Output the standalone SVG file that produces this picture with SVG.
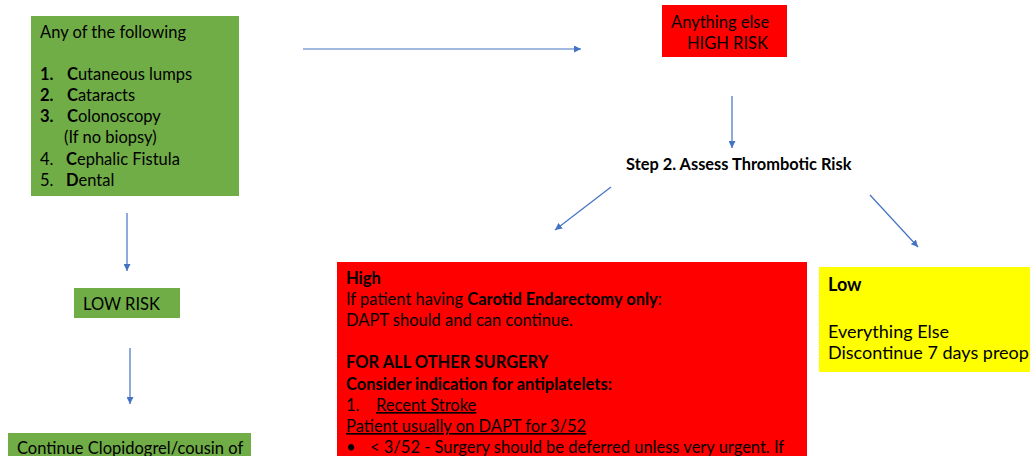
<svg xmlns="http://www.w3.org/2000/svg" width="1030" height="456" viewBox="0 0 1030 456">
<defs>
<marker id="ah" viewBox="0 0 10 10" refX="10" refY="5" markerWidth="7" markerHeight="7" markerUnits="userSpaceOnUse" orient="auto">
<path d="M0,0 L10,5 L0,10 z" fill="#4472C4"/>
</marker>
</defs>
<style>
text{font-family:Lato,"Liberation Sans",sans-serif;font-size:16.5px;fill:#000}
.b{font-weight:bold}
.u{text-decoration:underline}
.big{font-size:18px}
.c line{stroke:#4472C4;stroke-width:1.2;marker-end:url(#ah)}
.g{fill:#70AD47}
.r{fill:#FF0000}
.y{fill:#FFFF00}
</style>
<rect width="1030" height="456" fill="#fff"/>
<g class="c">
<line x1="303" y1="49" x2="581" y2="49"/>
<line x1="732" y1="96" x2="732" y2="148"/>
<line x1="611" y1="187" x2="555" y2="230"/>
<line x1="870" y1="195" x2="918" y2="247"/>
<line x1="127" y1="213" x2="127" y2="271"/>
<line x1="130" y1="348" x2="130" y2="404"/>
</g>
<g id="list">
<rect class="g" x="31" y="16" width="208" height="180"/>
<text x="40" y="38">Any of the following</text>
<text x="40" y="80"><tspan class="b">1.</tspan><tspan x="67" class="b">C</tspan>utaneous lumps</text>
<text x="40" y="101"><tspan class="b">2.</tspan><tspan x="67" class="b">C</tspan>ataracts</text>
<text x="40" y="122"><tspan class="b">3.</tspan><tspan x="67" class="b">C</tspan>olonoscopy</text>
<text x="64" y="143">(If no biopsy)</text>
<text x="40" y="165">4.<tspan x="66" class="b">C</tspan>ephalic Fistula</text>
<text x="40" y="186">5.<tspan x="66" class="b">D</tspan>ental</text>
</g>
<g id="highrisk">
<rect class="r" x="662" y="5" width="125" height="52"/>
<text x="671" y="28">Anything else</text>
<text x="687" y="49">HIGH RISK</text>
</g>
<g id="step2">
<text class="b" x="626" y="170" style="font-size:16.4px">Step 2. Assess Thrombotic Risk</text>
</g>
<g id="lowrisk">
<rect class="g" x="74" y="288" width="106" height="30"/>
<text x="83" y="310">LOW RISK</text>
</g>
<g id="continue">
<rect class="g" x="8" y="433" width="243" height="30"/>
<text x="17" y="454">Continue Clopidogrel/cousin of</text>
</g>
<g id="high">
<rect class="r" x="337" y="262" width="470" height="200"/>
<text class="b" x="346" y="284">High</text>
<text x="346" y="305">If patient having <tspan class="b">Carotid Endarectomy only</tspan>:</text>
<text x="346" y="326">DAPT should and can continue.</text>
<text class="b" x="346" y="368">FOR ALL OTHER SURGERY</text>
<text class="b" x="346" y="390">Consider indication for antiplatelets:</text>
<text x="346" y="411">1.<tspan x="376" class="u">Recent Stroke</tspan></text>
<text x="346" y="432" class="u">Patient usually on DAPT for 3/52</text>
<text x="346" y="453">•<tspan x="370">&lt; 3/52 - Surgery should be deferred unless very urgent. If</tspan></text>
</g>
<g id="low">
<rect class="y" x="819" y="267" width="215" height="105"/>
<text class="b big" x="828" y="291">Low</text>
<text class="big" x="828" y="338">Everything Else</text>
<text class="big" x="828" y="359">Discontinue 7 days preop</text>
</g>
</svg>
